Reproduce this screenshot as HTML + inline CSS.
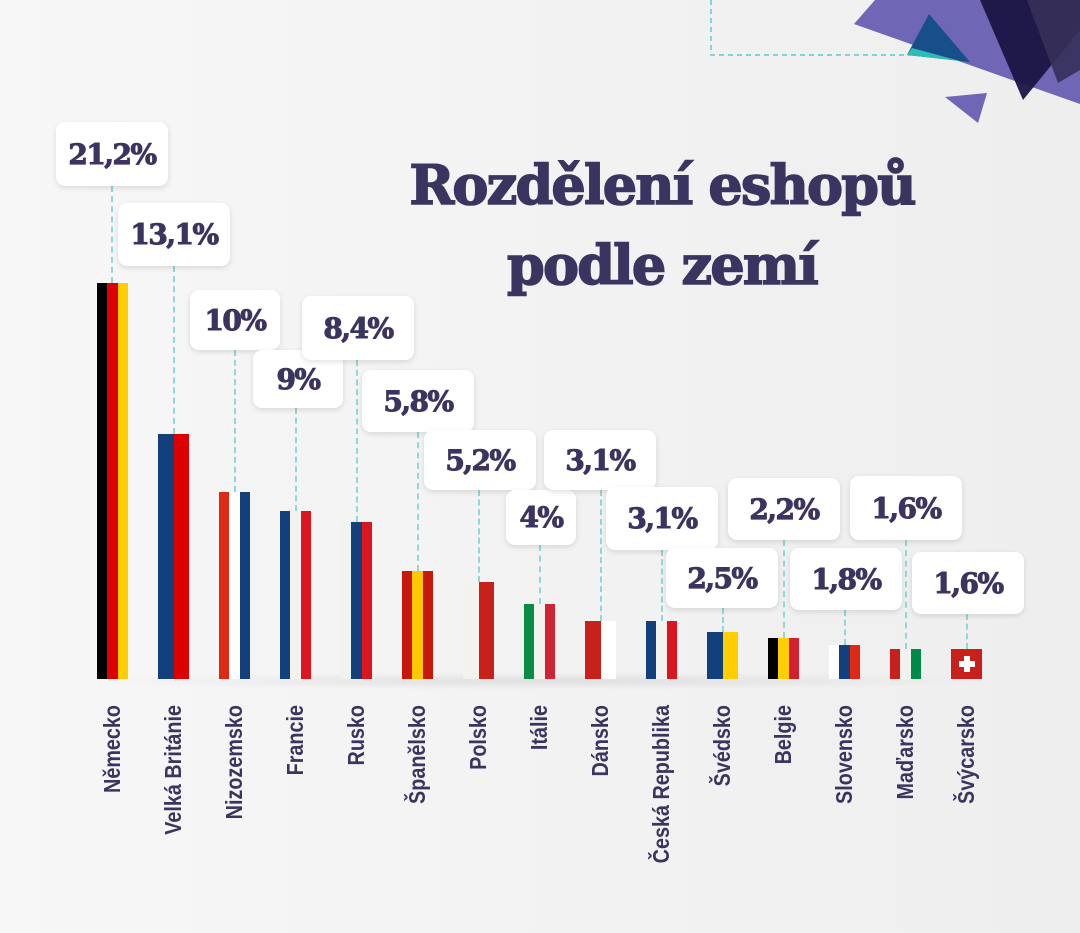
<!DOCTYPE html>
<html><head><meta charset="utf-8"><style>
*{margin:0;padding:0;box-sizing:border-box}
body{width:1080px;height:933px;overflow:hidden;background:linear-gradient(90deg,#f7f7f7,#eeeeee);position:relative;font-family:"Liberation Sans",sans-serif;color:#3a3560}
.t{position:absolute;left:330px;width:664px;text-align:center;font-family:"DejaVu Serif","Liberation Serif",serif;font-weight:bold;font-size:54px;letter-spacing:-1.8px;line-height:80px;top:145px;color:#3a3560;-webkit-text-stroke:1.6px #3a3560}
.b{position:absolute;background:#fff;border-radius:9px;box-shadow:0 2px 6px rgba(0,0,0,.12);font-family:"DejaVu Serif","Liberation Serif",serif;font-weight:bold;font-size:28px;letter-spacing:-1.5px;display:flex;align-items:center;justify-content:center;color:#3a3560;-webkit-text-stroke:1px #3a3560}
.d{position:absolute;width:0;border-left:2px dashed #8fd8d8}
.f{position:absolute;bottom:254px;width:31px;display:flex}
.f i{flex:1;display:block}
.sh{position:absolute;left:75px;top:672px;width:930px;height:18px;background:radial-gradient(ellipse at center,rgba(0,0,0,.08),rgba(0,0,0,0) 70%)}
.l{position:absolute;top:705px;transform-origin:0 0;transform:rotate(-90deg) scaleX(.86) translateX(-100%);font-family:"Liberation Sans Narrow","Liberation Sans",sans-serif;font-weight:bold;font-size:23px;line-height:24px;white-space:nowrap;color:#3a3560}
</style></head><body>
<svg style="position:absolute;left:0;top:0" width="1080" height="140">
<path d="M711 0V55H1080" fill="none" stroke="#3cc8c0" stroke-width="1.2" stroke-dasharray="5,4"/>
<polygon points="854,24 875,0 1080,0 1080,104" fill="#6f66b5"/>
<polygon points="907,55 929,14 970,62" fill="#174f8a"/>
<polygon points="907,55 960,61 912,48" fill="#2fbdb2"/>
<polygon points="980,0 1080,0 1080,30 1023,100" fill="#1a1545" opacity=".95"/>
<polygon points="1027,0 1080,0 1080,70 1058,83" fill="#35305a" opacity=".9"/>
<polygon points="945,97 987,93 978,123" fill="#6f66b5"/>
</svg>
<div class="t">Rozdělení eshopů<br>podle zemí</div>
<div class="sh"></div>

<div class="d" style="left:111px;top:186px;height:97px"></div>
<div class="d" style="left:173px;top:266px;height:168px"></div>
<div class="d" style="left:234px;top:350px;height:142px"></div>
<div class="d" style="left:295px;top:408px;height:103px"></div>
<div class="d" style="left:356px;top:360px;height:162px"></div>
<div class="d" style="left:417px;top:432px;height:139px"></div>
<div class="d" style="left:478px;top:490px;height:92px"></div>
<div class="d" style="left:539px;top:545px;height:59px"></div>
<div class="d" style="left:600px;top:490px;height:131px"></div>
<div class="d" style="left:661px;top:550px;height:71px"></div>
<div class="d" style="left:722px;top:608px;height:24px"></div>
<div class="d" style="left:783px;top:540px;height:98px"></div>
<div class="d" style="left:844px;top:610px;height:35px"></div>
<div class="d" style="left:905px;top:540px;height:109px"></div>
<div class="d" style="left:966px;top:614px;height:35px"></div>

<div class="b" style="left:56px;top:122px;width:112px;height:64px">21,2%</div>
<div class="b" style="left:118px;top:203px;width:112px;height:63px">13,1%</div>
<div class="b" style="left:190px;top:290px;width:90px;height:60px">10%</div>
<div class="b" style="left:253px;top:350px;width:90px;height:58px">9%</div>
<div class="b" style="left:302px;top:296px;width:112px;height:64px">8,4%</div>
<div class="b" style="left:362px;top:370px;width:112px;height:62px">5,8%</div>
<div class="b" style="left:424px;top:430px;width:112px;height:60px">5,2%</div>
<div class="b" style="left:506px;top:490px;width:70px;height:55px">4%</div>
<div class="b" style="left:544px;top:430px;width:112px;height:60px">3,1%</div>
<div class="b" style="left:606px;top:487px;width:112px;height:63px">3,1%</div>
<div class="b" style="left:666px;top:548px;width:112px;height:60px">2,5%</div>
<div class="b" style="left:728px;top:478px;width:112px;height:62px">2,2%</div>
<div class="b" style="left:790px;top:548px;width:112px;height:62px">1,8%</div>
<div class="b" style="left:850px;top:476px;width:112px;height:64px">1,6%</div>
<div class="b" style="left:912px;top:552px;width:112px;height:62px">1,6%</div>

<div class="f" style="left:97px;height:396px"><i style="background:#000"></i><i style="background:#dd0000"></i><i style="background:#ffce00"></i></div>
<div class="f" style="left:158px;height:245px"><i style="background:#12407d"></i><i style="background:#dd0000"></i></div>
<div class="f" style="left:219px;height:187px"><i style="background:#de2a14"></i><i style="background:#fff"></i><i style="background:#12407d"></i></div>
<div class="f" style="left:280px;height:168px"><i style="background:#12407d"></i><i style="background:#f2f2ee"></i><i style="background:#dc1620"></i></div>
<div class="f" style="left:341px;height:157px"><i style="background:#f2f2ee"></i><i style="background:#12407d"></i><i style="background:#dc1620"></i></div>
<div class="f" style="left:402px;height:108px"><i style="background:#c8180e"></i><i style="background:#ffc800"></i><i style="background:#c8180e"></i></div>
<div class="f" style="left:463px;height:97px"><i style="background:#f2f2ee"></i><i style="background:#c8201a"></i></div>
<div class="f" style="left:524px;height:75px"><i style="background:#0a8c45"></i><i style="background:#f2f2ee"></i><i style="background:#cf2434"></i></div>
<div class="f" style="left:585px;height:58px"><i style="background:#c8201a"></i><i style="background:#fff"></i></div>
<div class="f" style="left:646px;height:58px"><i style="background:#12407d"></i><i style="background:#f2f2ee"></i><i style="background:#dc1620"></i></div>
<div class="f" style="left:707px;height:47px"><i style="background:#12407d"></i><i style="background:#ffce00"></i></div>
<div class="f" style="left:768px;height:41px"><i style="background:#000"></i><i style="background:#ffce00"></i><i style="background:#d22030"></i></div>
<div class="f" style="left:829px;height:34px"><i style="background:#fff"></i><i style="background:#12407d"></i><i style="background:#de2a14"></i></div>
<div class="f" style="left:890px;height:30px"><i style="background:#c8201a"></i><i style="background:#f2f2ee"></i><i style="background:#008a48"></i></div>
<div class="f" style="left:951px;height:30px;background:#c8201a;align-items:center;justify-content:center"><span style="position:relative;width:16px;height:16px"><span style="position:absolute;left:5px;top:0;width:6px;height:16px;background:#fff"></span><span style="position:absolute;left:0;top:5px;width:16px;height:6px;background:#fff"></span></span></div>

<div class="l" style="left:100px">Německo</div>
<div class="l" style="left:161px">Velká Británie</div>
<div class="l" style="left:222px">Nizozemsko</div>
<div class="l" style="left:283px">Francie</div>
<div class="l" style="left:344px">Rusko</div>
<div class="l" style="left:405px">Španělsko</div>
<div class="l" style="left:466px">Polsko</div>
<div class="l" style="left:527px">Itálie</div>
<div class="l" style="left:588px">Dánsko</div>
<div class="l" style="left:649px">Česká Republika</div>
<div class="l" style="left:710px">Švédsko</div>
<div class="l" style="left:771px">Belgie</div>
<div class="l" style="left:832px">Slovensko</div>
<div class="l" style="left:893px">Maďarsko</div>
<div class="l" style="left:954px">Švýcarsko</div>
</body></html>
